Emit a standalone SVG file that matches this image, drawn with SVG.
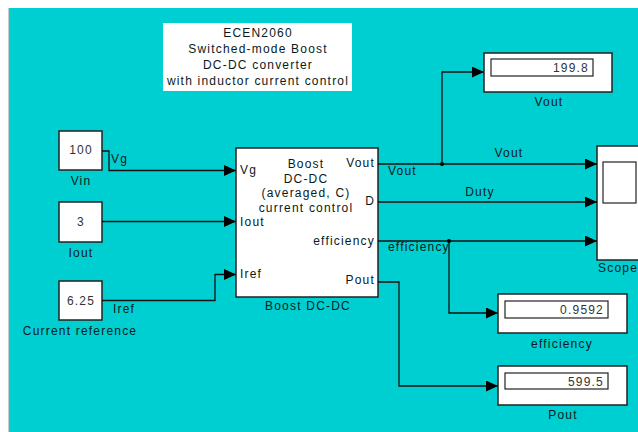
<svg xmlns="http://www.w3.org/2000/svg" width="638" height="432" viewBox="0 0 638 432">
<defs>
<style>
text{font-family:"Liberation Sans",Arial,sans-serif;font-size:12px;fill:#0a1a1a;letter-spacing:1.2px}
.c{text-anchor:middle}
.r{text-anchor:end}
.v{fill:#333}
.blk{fill:#fff;stroke:#222;stroke-width:1.5}
.fld{fill:#fff;stroke:#222;stroke-width:1.2}
.ln{fill:none;stroke:#111;stroke-width:1.3}
.ar{marker-end:url(#arr)}
</style>
<marker id="arr" markerUnits="userSpaceOnUse" markerWidth="13" markerHeight="12" refX="12" refY="5.5" orient="auto"><path d="M0,0 L12,5.5 L0,11 z" fill="#000"/></marker>
</defs>
<rect x="0" y="0" width="638" height="432" fill="#fff"/>
<rect x="9" y="8" width="629" height="424" fill="#00cfd1"/>
<line x1="9" y1="8" x2="9" y2="432" stroke="#8a9a9a" stroke-width="1"/>

<g id="title">
<rect x="163" y="23" width="189" height="68" fill="#fff"/>
<text class="c" x="258" y="37">ECEN2060</text>
<text class="c" x="258" y="53">Switched-mode Boost</text>
<text class="c" x="258" y="69">DC-DC converter</text>
<text class="c" x="258" y="85">with inductor current control</text>
</g>

<g id="Vin">
<rect class="blk" x="59" y="131" width="43" height="39"/>
<text class="c v" x="81" y="154">100</text>
<text class="c" x="81" y="185">Vin</text>
</g>
<g id="Iout">
<rect class="blk" x="59" y="202" width="43" height="40"/>
<text class="c v" x="81" y="226">3</text>
<text class="c" x="81" y="257">Iout</text>
</g>
<g id="Iref">
<rect class="blk" x="59" y="281" width="43" height="39"/>
<text class="c v" x="81" y="305">6.25</text>
<text class="c" x="80" y="335">Current reference</text>
</g>

<g id="Boost">
<rect class="blk" x="236" y="148" width="142" height="149"/>
<text x="240" y="174">Vg</text>
<text x="240" y="226">Iout</text>
<text x="240" y="278">Iref</text>
<text class="r" x="375" y="167">Vout</text>
<text class="r" x="375" y="205">D</text>
<text class="r" x="375" y="245">efficiency</text>
<text class="r" x="375" y="284">Pout</text>
<text class="c" x="306" y="168">Boost</text>
<text class="c" x="306" y="183">DC-DC</text>
<text class="c" x="306" y="197">(averaged, C)</text>
<text class="c" x="306" y="212">current control</text>
<text class="c" x="308" y="310">Boost DC-DC</text>
</g>

<g id="VoutDisp">
<rect class="blk" x="484" y="53" width="128" height="39"/>
<rect class="fld" x="491" y="59" width="102" height="17"/>
<text class="r v" x="589" y="72">199.8</text>
<text class="c" x="549" y="106">Vout</text>
</g>
<g id="EffDisp">
<rect class="blk" x="498" y="294" width="129" height="39"/>
<rect class="fld" x="505" y="301" width="103" height="17"/>
<text class="r v" x="604" y="314">0.9592</text>
<text class="c" x="562" y="348">efficiency</text>
</g>
<g id="PoutDisp">
<rect class="blk" x="498" y="366" width="129" height="39"/>
<rect class="fld" x="505" y="373" width="103" height="16"/>
<text class="r v" x="604" y="386">599.5</text>
<text class="c" x="563" y="419">Pout</text>
</g>
<g id="Scope">
<rect class="blk" x="597" y="146" width="50" height="114"/>
<rect class="fld" x="603" y="162" width="33" height="41"/>
<text x="598" y="272">Scope</text>
</g>

<g id="connectors">
<polyline class="ln ar" points="102,151 109,151 109,170.5 236,170.5"/>
<polyline class="ln ar" points="102,221.5 236,221.5"/>
<polyline class="ln ar" points="102,300.5 215,300.5 215,274.5 236,274.5"/>
<polyline class="ln ar" points="378,164 597,164"/>
<polyline class="ln ar" points="442,164 442,72 484,72"/>
<circle cx="442" cy="164" r="2" fill="#000"/>
<polyline class="ln ar" points="378,202 597,202"/>
<polyline class="ln ar" points="378,241 597,241"/>
<polyline class="ln ar" points="449,241 449,313 498,313"/>
<circle cx="449" cy="241" r="2" fill="#000"/>
<polyline class="ln ar" points="378,282 399,282 399,386 498,386"/>
<text x="111" y="163">Vg</text>
<text x="113" y="313">Iref</text>
<text class="c" x="509" y="157">Vout</text>
<text x="388" y="175">Vout</text>
<text class="c" x="480" y="196">Duty</text>
<text x="388" y="251">efficiency</text>
</g>
</svg>
